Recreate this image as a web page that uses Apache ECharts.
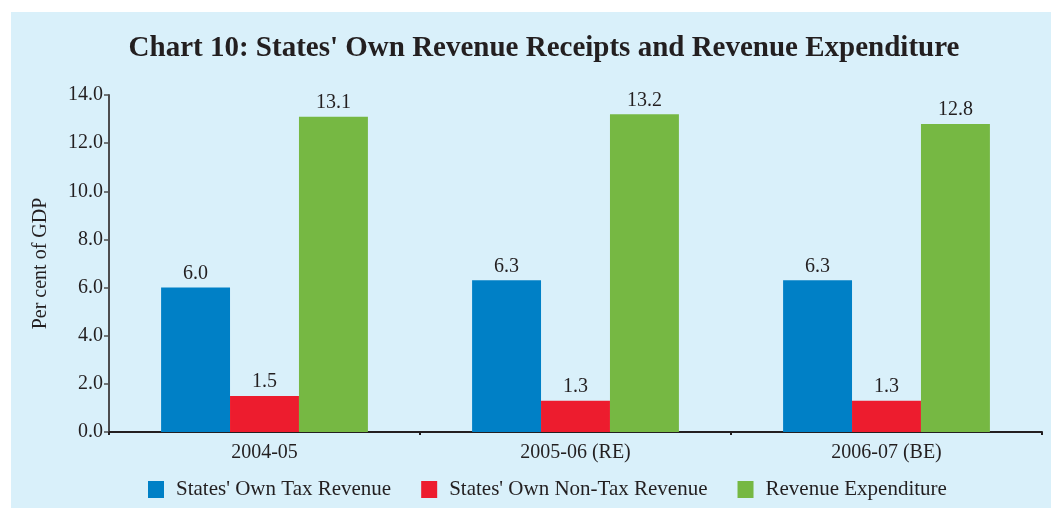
<!DOCTYPE html>
<html>
<head>
<meta charset="utf-8">
<script src="https://cdn.jsdelivr.net/npm/echarts@6/dist/echarts.min.js"></script>
<style>
html,body{margin:0;padding:0;background:#ffffff;}
#panel{position:absolute;left:11px;top:12px;width:1040px;height:496px;background:#d9f0fa;}
#chart{position:absolute;left:0;top:0;width:1051px;height:508px;}
</style>
</head>
<body>
<div id="panel"></div>
<div id="chart"></div>
<script>
var categories = ['2004-05', '2005-06 (RE)', '2006-07 (BE)'];
var taxRevenue = [6.0, 6.3, 6.3];
var nonTaxRevenue = [1.5, 1.3, 1.3];
var revenueExpenditure = [13.1, 13.2, 12.8];
var seriesNames = ["States' Own Tax Revenue", "States' Own Non-Tax Revenue", "Revenue Expenditure"];

var serif = "'Liberation Serif', 'DejaVu Serif', serif";
var txt = '#231f20';
var chart = echarts.init(document.getElementById('chart'), null, {renderer: 'canvas'});
var labelCfg = {show: true, position: 'top', distance: 4, color: txt, fontFamily: serif, fontSize: 20,
  formatter: function (p) { return p.value.toFixed(1); }};
chart.setOption({
  backgroundColor: 'transparent',
  animation: false,
  title: {
    text: "Chart 10: States' Own Revenue Receipts and Revenue Expenditure",
    left: 539, top: 29, textAlign: 'center',
    textStyle: {fontFamily: serif, fontWeight: 'bold', fontSize: 29, color: txt}
  },
  legend: {
    left: 143, top: 474, itemWidth: 16, itemHeight: 17, itemGap: 30,
    icon: 'rect',
    textStyle: {fontFamily: serif, fontSize: 21, color: txt, padding: [0, 0, 0, 7]},
    data: seriesNames
  },
  grid: {left: 109, top: 95, width: 933, height: 337, containLabel: false},
  xAxis: {
    type: 'category', data: categories,
    axisLine: {lineStyle: {color: '#231f20', width: 2}},
    axisTick: {show: true, length: 3, lineStyle: {color: '#231f20', width: 2}},
    axisLabel: {color: txt, fontFamily: serif, fontSize: 20, margin: 11}
  },
  yAxis: {
    type: 'value', min: 0, max: 14, interval: 2,
    name: 'Per cent of GDP', nameLocation: 'middle', nameGap: 58, nameRotate: 90,
    nameTextStyle: {fontFamily: serif, fontSize: 20, color: txt},
    axisLine: {show: true, lineStyle: {color: '#4d4d4f', width: 2}},
    axisTick: {show: true, length: 5, lineStyle: {color: '#4d4d4f', width: 1.5}},
    axisLabel: {color: txt, fontFamily: serif, fontSize: 20, margin: 6,
      formatter: function (v) { return v.toFixed(1); }},
    splitLine: {show: false}
  },
  series: [
    {name: seriesNames[0], type: 'bar', data: taxRevenue, barGap: '0%', barCategoryGap: '33.5%',
      itemStyle: {color: '#0080c6'}, label: labelCfg},
    {name: seriesNames[1], type: 'bar', data: nonTaxRevenue,
      itemStyle: {color: '#ed1c2e'}, label: labelCfg},
    {name: seriesNames[2], type: 'bar', data: revenueExpenditure,
      itemStyle: {color: '#76b843'}, label: labelCfg}
  ]
});
</script>
</body>
</html>
